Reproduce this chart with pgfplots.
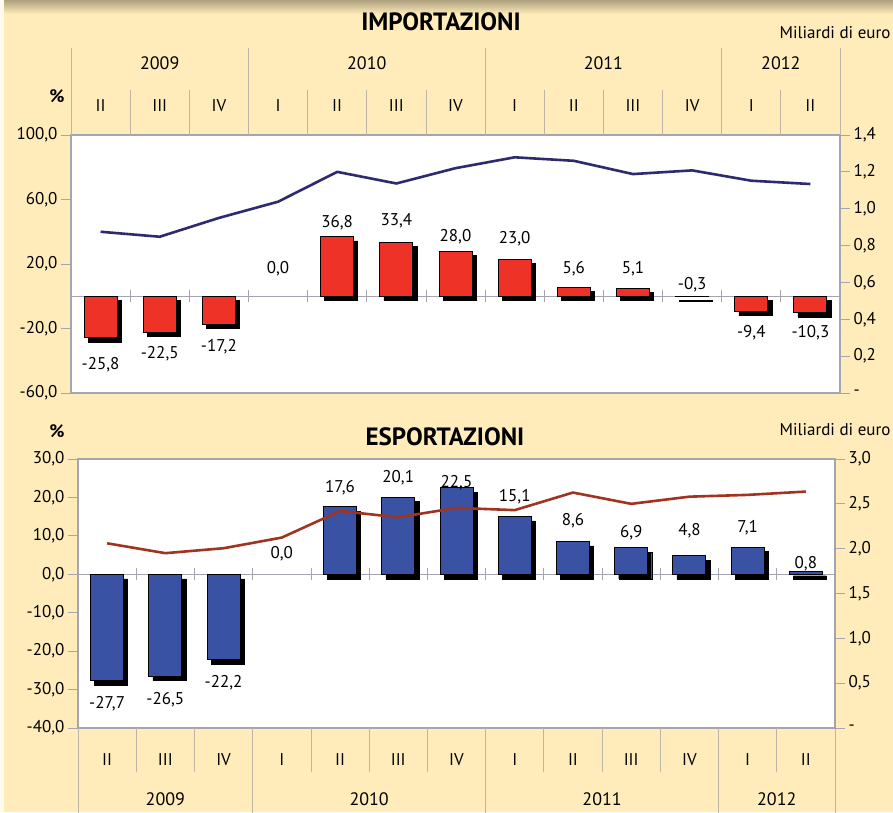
\documentclass[border=0pt]{standalone}
\usepackage{fontspec}
\setmainfont{PT Sans}
\usepackage{pgfplots}
\usepackage{pgfplotstable}
\pgfplotsset{compat=1.18}

\definecolor{bgyellow}{RGB}{255,236,186}
\definecolor{barred}{RGB}{238,50,40}
\definecolor{barblue}{RGB}{58,82,164}
\definecolor{linenavy}{RGB}{46,42,112}
\definecolor{linebrown}{RGB}{160,52,32}
\definecolor{framegrey}{RGB}{165,165,178}
\definecolor{sepgrey}{RGB}{190,182,165}

% importazioni: var. % (v), etichetta, posizione etichetta, miliardi di euro (bn)
\pgfplotstableread{
x  v     lab    ly     bn
0  -25.8 -25,8  -42.4  0.875
1  -22.5 -22,5  -35.5  0.848
2  -17.2 -17,2  -31.0  0.950
3  nan   0,0    17.2   1.038
4  36.8  36,8   45.5   1.200
5  33.4  33,4   47.1   1.137
6  28.0  28,0   36.8   1.220
7  23.0  23,0   35.8   1.279
8  5.6   5,6    17.2   1.260
9  5.1   5,1    17.2   1.188
10 -0.3  -0,3   7.2    1.208
11 -9.4  -9,4   -22.7  1.152
12 -10.3 -10,3  -22.7  1.134
}\impdata

% esportazioni
\pgfplotstableread{
x  v     lab    ly     bn
0  -27.7 -27,7  -33.7  2.060
1  -26.5 -26,5  -32.6  1.950
2  -22.2 -22,2  -28.1  2.005
3  nan   0,0    5.4    2.124
4  17.6  17,6   22.6   2.420
5  20.1  20,1   25.1   2.350
6  22.5  22,5   23.9   2.455
7  15.1  15,1   20.3   2.430
8  8.6   8,6    13.9   2.626
9  6.9   6,9    10.8   2.500
10 4.8   4,8    11.3   2.580
11 7.1   7,1    12.1   2.600
12 0.8   0,8    2.8    2.637
}\expdata

\pgfplotsset{
  panel/.style={
    scale only axis, clip=false,
    xmin=-0.5, xmax=12.5,
    axis line style={framegrey, line width=1.2pt},
    tick align=outside, major tick length=10pt,
    tick style={framegrey, line width=0.8pt},
    tick label style={font=\fontsize{17}{19}\selectfont},
    yticklabel style={/pgf/number format/.cd, fixed, fixed zerofill, precision=1, use comma, assume math mode=true},
    xtick={0,...,12},
    xticklabels={II,III,IV,I,II,III,IV,I,II,III,IV,I,II},
    xtick style={draw=none},
  },
  rightpanel/.style={
    scale only axis, clip=false,
    xmin=-0.5, xmax=12.5,
    axis x line=none, axis y line*=right,
    axis line style={framegrey, line width=1.2pt},
    tick align=outside, major tick length=10pt,
    tick style={framegrey, line width=0.8pt},
    tick label style={font=\fontsize{17}{19}\selectfont},
  },
  labs/.style={draw=none, mark=none, nodes near coords, point meta=explicit symbolic,
    nodes near coords align={center},
    every node near coord/.append style={font=\fontsize{17}{19}\selectfont, text=black}},
}

\begin{document}
\begin{tikzpicture}
\useasboundingbox (0,0) rectangle (893pt,-812pt);
\fill[bgyellow] (0,0) rectangle (893pt,-812pt);
\shade[top color=bgyellow!55!black!70!bgyellow, bottom color=bgyellow] (0,0) rectangle (893pt,-14pt);
\fill[white!75!bgyellow] (0,0) rectangle (4pt,-812pt);

% ---------------- IMPORTAZIONI ----------------
\node[font=\bfseries\fontsize{25}{28}\selectfont] at (441pt,-22pt) {IMPORTAZIONI};
\node[anchor=east, font=\fontsize{17}{19}\selectfont] at (894pt,-33pt) {Miliardi di euro};
\node[font=\bfseries\fontsize{18}{20}\selectfont] at (57pt,-96pt) {\%};

\begin{axis}[panel,
  at={(71pt,-393pt)}, anchor=south west, width=769pt, height=258pt,
  ymin=-60, ymax=100, ytick={-60,-20,20,60,100}, ytick pos=left,
  xticklabel pos=right, xticklabel style={yshift=10pt},
  axis background/.style={fill=white},
]
\draw[framegrey, line width=0.8pt] (axis cs:-0.5,0) -- (axis cs:12.5,0);
\pgfplotsinvokeforeach{0.5,1.5,...,11.5}{\draw[framegrey, line width=0.8pt] (axis cs:#1,0) ++(0pt,-6pt) -- ++(0pt,12pt);}
\pgfplotsinvokeforeach{-0.5,0.5,...,12.5}{\draw[sepgrey, line width=0.8pt] (axis cs:#1,100) -- ++(0pt,45pt);}
\pgfplotsinvokeforeach{-0.5,2.5,6.5,10.5,12.5}{\draw[sepgrey, line width=0.8pt] (axis cs:#1,100) -- ++(0pt,87pt);}
\node[font=\fontsize{18}{20}\selectfont] at (axis cs:1,100) [yshift=72pt] {2009};
\node[font=\fontsize{18}{20}\selectfont] at (axis cs:4.5,100) [yshift=72pt] {2010};
\node[font=\fontsize{18}{20}\selectfont] at (axis cs:8.5,100) [yshift=72pt] {2011};
\node[font=\fontsize{18}{20}\selectfont] at (axis cs:11.5,100) [yshift=72pt] {2012};
\addplot[ybar, bar width=33pt, bar shift=0pt, fill=black, draw=black, xshift=4pt, yshift=-4pt] table[x=x, y=v] {\impdata};
\addplot[ybar, bar width=33pt, bar shift=0pt, fill=barred, draw=black, line width=0.9pt] table[x=x, y=v] {\impdata};
\addplot[labs] table[x=x, y=ly, meta=lab] {\impdata};
\end{axis}

\begin{axis}[rightpanel,
  at={(71pt,-393pt)}, anchor=south west, width=769pt, height=258pt,
  ymin=0, ymax=1.4, ytick={0,0.2,0.4,0.6,0.8,1.0,1.2,1.4},
  yticklabels={-,{0,2},{0,4},{0,6},{0,8},{1,0},{1,2},{1,4}},
]
\addplot[linenavy, line width=2.6pt] table[x=x, y=bn] {\impdata};
\end{axis}

% ---------------- ESPORTAZIONI ----------------
\node[font=\bfseries\fontsize{25}{28}\selectfont] at (445pt,-437pt) {ESPORTAZIONI};
\node[anchor=east, font=\fontsize{17}{19}\selectfont] at (894pt,-430pt) {Miliardi di euro};
\node[font=\bfseries\fontsize{18}{20}\selectfont] at (57pt,-431pt) {\%};

\begin{axis}[panel,
  at={(78pt,-728pt)}, anchor=south west, width=757pt, height=269pt,
  ymin=-40, ymax=30, ytick={-40,-30,...,30}, ytick pos=left,
  xticklabel pos=left, xticklabel style={yshift=-12pt},
  axis background/.style={fill=white},
]
\draw[framegrey, line width=0.8pt] (axis cs:-0.5,0) -- (axis cs:12.5,0);
\pgfplotsinvokeforeach{0.5,1.5,...,11.5}{\draw[framegrey, line width=0.8pt] (axis cs:#1,0) ++(0pt,-6pt) -- ++(0pt,12pt);}
\pgfplotsinvokeforeach{-0.5,0.5,...,12.5}{\draw[sepgrey, line width=0.8pt] (axis cs:#1,-40) -- ++(0pt,-44pt);}
\pgfplotsinvokeforeach{-0.5,2.5,6.5,10.5,12.5}{\draw[sepgrey, line width=0.8pt] (axis cs:#1,-40) -- ++(0pt,-90pt);}
\node[font=\fontsize{18}{20}\selectfont] at (axis cs:1,-40) [yshift=-71pt] {2009};
\node[font=\fontsize{18}{20}\selectfont] at (axis cs:4.5,-40) [yshift=-71pt] {2010};
\node[font=\fontsize{18}{20}\selectfont] at (axis cs:8.5,-40) [yshift=-71pt] {2011};
\node[font=\fontsize{18}{20}\selectfont] at (axis cs:11.5,-40) [yshift=-71pt] {2012};
\addplot[ybar, bar width=33pt, bar shift=0pt, fill=black, draw=black, xshift=4pt, yshift=-4.5pt] table[x=x, y=v] {\expdata};
\addplot[ybar, bar width=33pt, bar shift=0pt, fill=barblue, draw=black, line width=0.9pt] table[x=x, y=v] {\expdata};
\addplot[labs] table[x=x, y=ly, meta=lab] {\expdata};
\end{axis}

\begin{axis}[rightpanel,
  at={(78pt,-728pt)}, anchor=south west, width=757pt, height=269pt,
  ymin=0, ymax=3, ytick={0,0.5,1.0,1.5,2.0,2.5,3.0},
  yticklabels={-,{0,5},{1,0},{1,5},{2,0},{2,5},{3,0}},
]
\addplot[linebrown, line width=2.6pt] table[x=x, y=bn] {\expdata};
\end{axis}
\end{tikzpicture}
\end{document}
